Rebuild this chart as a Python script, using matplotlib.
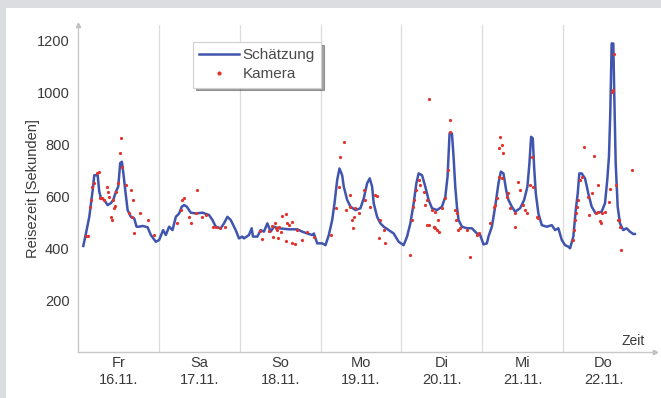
import matplotlib
matplotlib.use("Agg")
import matplotlib.pyplot as plt
from matplotlib.patches import Rectangle

plt.rcParams['font.family'] = ['Liberation Sans', 'DejaVu Sans']

# ---------------- data ----------------
day_names = ["Fr", "Sa", "So", "Mo", "Di", "Mi", "Do"]
day_dates = ["16.11.", "17.11.", "18.11.", "19.11.", "20.11.", "21.11.", "22.11."]
y_ticks = [200, 400, 600, 800, 1000, 1200]

# Schätzung (hours since Fr 00:00, seconds)
est_hours = [1.57, 2.37, 3.35, 4.36, 4.83, 5.84, 6.31, 6.81, 7.79, 8.80, 9.78, 10.46, 11.26, 11.94,
             12.53, 13.04, 13.54, 14.02, 14.73, 15.70, 16.68, 17.39, 18.16, 19.17, 20.65, 21.63,
             23.11, 24.09, 25.27, 26.07, 27.05, 28.06, 29.04, 30.02, 30.81, 31.50, 32.30, 33.48,
             34.96, 36.95, 38.90, 39.91, 40.89, 42.37, 43.35, 44.36, 45.33, 46.82, 47.79, 48.80,
             49.27, 50.75, 51.56, 51.94, 53.25, 54.22, 55.20, 56.21, 57.19, 58.16, 59.64, 62.61,
             65.09, 66.58, 68.06, 69.54, 70.03, 71.02, 72.50, 73.48, 74.46, 75.47, 76.15, 76.95,
             77.63, 78.43, 78.90, 79.91, 80.89, 82.37, 83.85, 84.83, 85.84, 86.61, 87.32, 87.79,
             88.80, 89.78, 90.76, 92.24, 93.72, 95.20, 96.68, 97.69, 98.67, 99.65, 100.45, 101.13,
             102.14, 103.11, 104.09, 105.10, 106.58, 108.06, 109.04, 109.72, 110.31, 111.02,
             111.50, 112.00, 112.50, 112.98, 113.99, 115.47, 116.95, 118.43, 119.41, 120.38,
             121.39, 121.86, 122.87, 123.85, 124.83, 125.54, 126.31, 127.11, 127.79, 128.80,
             129.78, 131.26, 132.45, 133.42, 134.02, 134.52, 135.02, 135.41, 135.91, 136.68,
             137.69, 139.17, 140.65, 141.63, 142.61, 143.62, 144.60, 145.58, 146.08, 147.06,
             147.77, 148.36, 148.83, 149.54, 150.52, 151.50, 152.50, 153.69, 155.47, 156.45,
             157.13, 157.63, 158.02, 158.43, 158.92, 159.22, 159.63, 160.22, 160.90, 161.87,
             162.87, 163.85, 164.83, 165.33]
est_values = [408, 457, 520, 623, 680, 680, 617, 592, 585, 565, 573, 585, 617, 636,
              727, 732, 680, 623, 546, 520, 514, 482, 482, 485, 480, 450,
              424, 431, 469, 450, 482, 469, 520, 533, 559, 565, 559, 536,
              533, 536, 527, 508, 482, 476, 495, 520, 508, 469, 437, 444,
              437, 450, 476, 444, 444, 469, 463, 495, 463, 482, 476, 472,
              472, 463, 456, 450, 456, 418, 418, 411, 450, 508, 572, 662,
              706, 680, 636, 585, 559, 546, 553, 591, 649, 668, 636, 572,
              520, 495, 482, 469, 456, 424, 411, 444, 495, 572, 649, 687,
              680, 636, 585, 553, 546, 559, 597, 675, 841, 841,
              751, 636, 559, 508, 482, 476, 476, 456, 450, 414,
              418, 444, 482, 559, 649, 694, 687, 623, 585, 559,
              540, 553, 585, 636, 726, 828, 822, 713, 610, 533,
              488, 482, 488, 469, 476, 431, 411, 405, 399, 444,
              546, 610, 687, 687, 668, 610, 559, 533, 540, 572,
              662, 751, 918, 1187, 1187, 982, 726, 559, 495, 469,
              476, 463, 454, 454]

# Kamera (hours since Fr 00:00, seconds)
cam_hours = [2.37, 2.86, 3.56, 3.85, 4.15, 4.84, 5.53, 6.12, 6.52, 7.11, 7.80, 8.49, 8.79, 9.28,
             9.78, 9.98, 10.27, 10.77, 11.06, 11.26, 11.75, 12.44, 12.74, 13.04, 14.22, 15.70,
             16.20, 15.21, 16.00, 16.69, 18.37, 20.64, 22.42,
             29.53, 30.52, 31.01, 31.51, 32.99, 33.48, 34.96, 35.46, 36.94, 37.93, 40.10, 40.89,
             42.08, 43.56,
             53.92, 54.51, 56.69, 57.67, 58.46, 58.66, 59.16, 59.65, 60.14, 57.87, 59.40, 60.64,
             61.63, 62.12, 62.61, 63.60, 61.80, 63.40, 64.39, 65.08, 66.56, 68.05, 70.02,
             74.97, 76.45, 77.43, 77.93, 78.92, 79.71, 80.69, 80.89, 81.39, 81.68, 81.88, 82.37,
             83.36, 84.84, 85.34, 86.82, 88.30, 88.79, 89.78, 90.77, 89.29, 91.26,
             98.67, 99.16, 99.46, 99.86, 100.45, 101.14, 101.63, 102.62, 103.61, 103.11, 104.10,
             105.09, 105.58, 106.08, 106.57, 107.07, 106.80, 108.05, 109.04, 109.73, 110.32,
             110.52, 112.00, 112.30, 112.50, 112.70, 113.49, 115.46, 116.25, 118.42, 118.92,
             104.30, 103.60, 105.58, 106.07,
             122.37, 123.36, 123.85, 124.34, 124.84, 125.33, 125.82, 126.32, 125.13, 125.82,
             127.31, 127.80, 128.29, 129.78, 129.60, 130.76, 131.26, 132.24, 132.74, 133.23,
             134.22, 134.71, 135.21, 136.20, 136.69,
             147.06, 147.36, 147.56, 147.75, 148.05, 148.35, 149.04, 149.53, 150.32, 151.31,
             151.70, 152.69, 153.28, 153.68, 154.27, 154.47, 154.96, 155.26, 155.46, 156.45,
             157.63, 157.93, 158.62, 158.92, 159.01, 159.61, 160.20, 160.60, 160.89, 161.09,
             164.55]
cam_values = [446, 446, 556, 585, 636, 649, 687, 691, 591, 591, 585, 636, 617, 597,
              521, 508, 585, 553, 562, 617, 649, 764, 822, 713, 642, 623,
              585, 533, 521, 456, 533, 508, 450,
              495, 546, 585, 591, 521, 495, 533, 623, 521, 527, 482, 480,
              476, 482,
              467, 433, 467, 485, 495, 476, 469, 482, 463, 441, 437, 523,
              531, 495, 488, 501, 428, 421, 415, 469, 431, 463, 444,
              450, 553, 636, 751, 809, 546, 604, 559, 508, 476, 521, 553,
              533, 623, 585, 559, 604, 600, 508, 469, 437, 418,
              373, 508, 559, 585, 623, 662, 642, 617, 585, 565, 488,
              546, 482, 540, 469, 463, 508, 553, 591, 700, 847,
              892, 546, 508, 533, 469, 476, 469, 367, 450, 456,
              973, 488, 482, 476,
              495, 559, 565, 591, 783, 828, 796, 764, 674, 668,
              597, 610, 553, 482, 533, 655, 623, 565, 546, 533,
              642, 751, 636, 520, 514,
              431, 469, 508, 533, 559, 585, 661, 674, 790, 597,
              527, 613, 754, 536, 540, 642, 505, 495, 533, 540,
              578, 629, 1001, 1008, 1146, 642, 508, 508, 482, 392,
              700]

# ---------------- figure ----------------
W, H = 661, 398
fig = plt.figure(figsize=(W / 100, H / 100), dpi=100)
fig.patch.set_facecolor('#dcdde0')
bg = Rectangle((6 / W, -0.01), 1.05, 1.01 - 8 / H, transform=fig.transFigure,
               facecolor='white', edgecolor='none', zorder=-10)
fig.add_artist(bg)

ax_left, ax_right = 78 / W, 655 / W
ax_bottom, ax_top = 1 - 352 / H, 1 - 25 / H
ax = fig.add_axes([ax_left, ax_bottom, ax_right - ax_left, ax_top - ax_bottom])
ax.set_facecolor('none')
ax.set_zorder(1)

xmax = 171.3
ax.set_xlim(0, xmax)
ax.set_ylim(0, 1258)

axis_col = '#c8c8c8'
for s in ['top', 'right']:
    ax.spines[s].set_visible(False)
for s in ['left', 'bottom']:
    ax.spines[s].set_color(axis_col)
    ax.spines[s].set_linewidth(1.0)

# day separators
for d in range(1, 7):
    ax.axvline(24 * d, color='#dcdcdc', lw=0.9, zorder=1)

ax.plot(est_hours, est_values, color='#4055ae', lw=1.8, zorder=3, label='Schätzung')
ax.plot(cam_hours, cam_values, linestyle='none', marker='o', ms=2.3, color='#e3322b',
        markeredgewidth=0, zorder=4, label='Kamera')

# ticks
ax.set_yticks(y_ticks)
ax.set_yticklabels([str(v) for v in y_ticks])
ax.set_xticks([24 * i + 12 for i in range(7)])
ax.set_xticklabels([f"{n}\n{d}" for n, d in zip(day_names, day_dates)], linespacing=1.25)
ax.tick_params(axis='both', length=0, labelsize=10.5, colors='#3a3a3a')
ax.tick_params(axis='y', pad=6)
ax.tick_params(axis='x', pad=3)

ax.set_ylabel('Reisezeit [Sekunden]', fontsize=10.5, color='#3a3a3a', labelpad=-2)

# axis arrows
ax.plot([1], [0], marker='>', ms=3, color='#bbbbbb', transform=ax.transAxes, clip_on=False)
ax.plot([0], [1], marker='^', ms=3, color='#bbbbbb', transform=ax.transAxes, clip_on=False)
ax.text(0.983, 0.012, 'Zeit', transform=ax.transAxes, ha='right', va='bottom',
        fontsize=10, color='#3a3a3a')

leg = ax.legend(loc='upper left', bbox_to_anchor=(0.199, 0.948), fontsize=11,
                frameon=True, fancybox=False, shadow=True, handlelength=2.6,
                borderpad=0.4, labelspacing=0.35, handletextpad=0.25, markerscale=1.3,
                borderaxespad=0.0)
leg.get_frame().set_edgecolor('#d0d0d0')
leg.get_frame().set_linewidth(0.8)
for t in leg.get_texts():
    t.set_color('#4a4a4a')

fig.savefig('out.png', dpi=100, facecolor=fig.get_facecolor())
